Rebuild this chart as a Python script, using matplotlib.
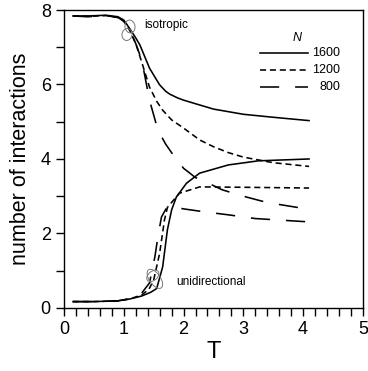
import matplotlib
matplotlib.use("Agg")
import matplotlib.pyplot as plt
from matplotlib.patches import Ellipse
from matplotlib.transforms import ScaledTranslation
from matplotlib.ticker import MultipleLocator

plt.rcParams['font.family'] = ['Liberation Sans', 'DejaVu Sans']

# isotropic (upper) branches
T_up_1600 = [0.15, 0.4, 0.7, 0.9, 1.0, 1.1, 1.2, 1.27, 1.35, 1.43, 1.52, 1.6, 1.7, 1.77, 1.9, 2.0, 2.27, 2.5, 3.0, 3.5, 4.1]
n_up_1600 = [7.84, 7.84, 7.86, 7.82, 7.73, 7.5, 7.25, 7.06, 6.75, 6.44, 6.2, 5.99, 5.82, 5.74, 5.64, 5.58, 5.45, 5.34, 5.2, 5.12, 5.03]
T_up_1200 = [0.15, 0.4, 0.7, 0.9, 1.0, 1.1, 1.2, 1.3, 1.43, 1.55, 1.65, 1.8, 2.0, 2.27, 2.5, 2.75, 3.0, 3.5, 4.1]
n_up_1200 = [7.84, 7.83, 7.85, 7.8, 7.7, 7.45, 7.1, 6.6, 5.93, 5.55, 5.31, 5.05, 4.83, 4.51, 4.33, 4.17, 4.05, 3.9, 3.8]
T_up_800 = [0.15, 0.4, 0.7, 0.9, 1.0, 1.1, 1.2, 1.3, 1.43, 1.57, 1.7, 1.83, 2.0, 2.2, 2.4, 2.65, 3.0, 3.4, 3.9, 4.1]
n_up_800 = [7.84, 7.82, 7.85, 7.8, 7.7, 7.45, 7.1, 6.66, 5.58, 4.78, 4.4, 4.1, 3.75, 3.5, 3.36, 3.17, 3.0, 2.83, 2.7, 2.63]

# unidirectional (lower) branches
T_lo_1600 = [0.15, 0.5, 0.9, 1.1, 1.3, 1.45, 1.55, 1.65, 1.73, 1.8, 1.88, 2.05, 2.27, 2.75, 3.25, 4.1]
n_lo_1600 = [0.17, 0.17, 0.19, 0.24, 0.32, 0.42, 0.52, 1.1, 2.1, 2.63, 2.98, 3.35, 3.62, 3.84, 3.95, 4.0]
T_lo_1200 = [0.15, 0.5, 0.9, 1.1, 1.3, 1.42, 1.5, 1.6, 1.68, 1.73, 1.93, 2.27, 3.0, 4.1]
n_lo_1200 = [0.17, 0.17, 0.19, 0.24, 0.35, 0.5, 0.75, 1.47, 2.36, 2.7, 3.08, 3.25, 3.24, 3.22]
T_lo_800 = [0.15, 0.5, 0.9, 1.1, 1.3, 1.43, 1.52, 1.57, 1.63, 1.72, 1.8, 2.0, 2.35, 2.75, 3.2, 3.7, 4.1]
n_lo_800 = [0.17, 0.17, 0.19, 0.25, 0.4, 0.67, 1.37, 1.9, 2.44, 2.7, 2.72, 2.66, 2.58, 2.5, 2.4, 2.35, 2.31]

x_ticks = [0, 1, 2, 3, 4, 5]
y_ticks = [0, 2, 4, 6, 8]
legend_labels = ['1600', '1200', '800']

fig = plt.figure(figsize=(3.68, 3.71), dpi=100)
ax = fig.add_axes([0.174, 0.170, 0.812, 0.803])

styles = [dict(ls='-'), dict(ls=(0, (3.8, 2.4))), dict(ls=(0, (12, 10)))]
ups = [(T_up_1600, n_up_1600), (T_up_1200, n_up_1200), (T_up_800, n_up_800)]
los = [(T_lo_1600, n_lo_1600), (T_lo_1200, n_lo_1200), (T_lo_800, n_lo_800)]
for (tu, nu), (tl, nl), st in zip(ups, los, styles):
    ax.plot(tu, nu, color='black', lw=1.15, **st)
    ax.plot(tl, nl, color='black', lw=1.15, **st)

# legend drawn manually (right-aligned labels)
leg_y = [0.856, 0.799, 0.742]
for yy, st, lab in zip(leg_y, styles, legend_labels):
    ax.plot([0.656, 0.816], [yy, yy], color='black', lw=1.15,
            transform=ax.transAxes, **st)
    ax.text(0.925, yy, lab, transform=ax.transAxes, fontsize=9,
            ha='right', va='center')
ax.text(0.78, 0.906, 'N', transform=ax.transAxes, fontsize=9,
        ha='center', va='center', style='italic')

ax.set_xlim(0, 5)
ax.set_ylim(0, 8)
ax.set_xticks(x_ticks)
ax.set_yticks(y_ticks)
ax.xaxis.set_minor_locator(MultipleLocator(0.2))
ax.yaxis.set_minor_locator(MultipleLocator(1))
ax.tick_params(which='both', direction='out', top=False, right=False, labelsize=13, width=1.0)
ax.tick_params(which='major', length=6)
ax.tick_params(which='minor', length=6)
for s in ax.spines.values():
    s.set_linewidth(1.0)

ax.set_xlabel('T', fontsize=17, labelpad=2)
ax.set_ylabel('number of interactions', fontsize=15.5, labelpad=7)

ax.text(1.35, 7.6, 'isotropic', fontsize=8.5, va='center', ha='left')
ax.text(1.88, 0.7, 'unidirectional', fontsize=8.5, va='center', ha='left')

def icon(x, y, w, h, ang, dx=0, dy=0):
    tr = fig.dpi_scale_trans + ScaledTranslation(x, y, ax.transData)
    e = Ellipse((dx / 100, dy / 100), w / 100, h / 100, angle=ang, fill=False,
                edgecolor='#777777', lw=0.7, transform=tr, zorder=5)
    ax.add_patch(e)

icon(1.07, 7.45, 10, 13, 10, dx=2, dy=4)
icon(1.07, 7.45, 10, 12, -10, dx=-1, dy=-4)
icon(1.52, 0.78, 22, 11, -55, dx=0, dy=0)
icon(1.52, 0.78, 14, 9, 40, dx=-2, dy=3)

fig.savefig('out.png', dpi=100)
